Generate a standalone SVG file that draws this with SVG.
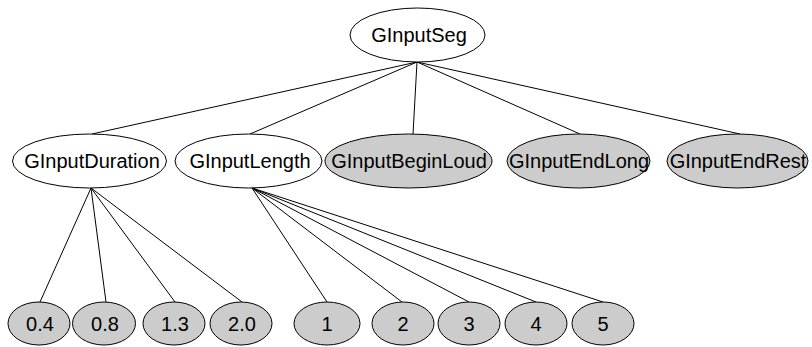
<svg xmlns="http://www.w3.org/2000/svg" width="812" height="347" viewBox="0 0 812 347">
<style>
.n{fill:#ffffff;stroke:#000;stroke-width:1}
.g{fill:#cccccc;stroke:#000;stroke-width:1}
text{font-family:"Liberation Sans",Arial,sans-serif;font-size:20px;fill:#000;text-anchor:middle}
.e line{stroke:#000;stroke-width:1}
</style>
<rect width="812" height="347" fill="#ffffff"/>
<g class="e" id="edges">
<line x1="417" y1="62" x2="92" y2="134"/>
<line x1="417" y1="62" x2="250" y2="134"/>
<line x1="417" y1="62" x2="413" y2="134"/>
<line x1="417" y1="62" x2="580" y2="134"/>
<line x1="417" y1="62" x2="740" y2="134"/>
<line x1="91" y1="188" x2="40" y2="302"/>
<line x1="91" y1="188" x2="106" y2="302"/>
<line x1="91" y1="188" x2="175" y2="302"/>
<line x1="91" y1="188" x2="242" y2="302"/>
<line x1="252" y1="188" x2="327" y2="302"/>
<line x1="252" y1="188" x2="402" y2="302"/>
<line x1="252" y1="188" x2="469" y2="302"/>
<line x1="252" y1="188" x2="536" y2="302"/>
<line x1="252" y1="188" x2="603" y2="302"/>
</g>
<g id="GInputSeg"><ellipse class="n" cx="417.5" cy="35" rx="67.5" ry="27"/><text x="419" y="42">GInputSeg</text></g>
<g id="GInputDuration"><ellipse class="n" cx="89.5" cy="161" rx="77" ry="27"/><text x="92" y="168">GInputDuration</text></g>
<g id="GInputLength"><ellipse class="n" cx="248.5" cy="161" rx="73.5" ry="27"/><text x="250" y="168">GInputLength</text></g>
<g id="GInputBeginLoud"><ellipse class="g" cx="408.5" cy="161" rx="83.5" ry="27"/><text x="409" y="168">GInputBeginLoud</text></g>
<g id="GInputEndLong"><ellipse class="g" cx="578.5" cy="161" rx="71.5" ry="27"/><text x="579" y="168">GInputEndLong</text></g>
<g id="GInputEndRest"><ellipse class="g" cx="737.5" cy="161" rx="70.5" ry="27"/><text x="738" y="168">GInputEndRest</text></g>
<g id="d04"><ellipse class="g" cx="39" cy="323.5" rx="31" ry="21.5"/><text x="40" y="331">0.4</text></g>
<g id="d08"><ellipse class="g" cx="104" cy="323.5" rx="31.5" ry="21.5"/><text x="105" y="331">0.8</text></g>
<g id="d13"><ellipse class="g" cx="174" cy="323.5" rx="31" ry="21.5"/><text x="175" y="331">1.3</text></g>
<g id="d20"><ellipse class="g" cx="241" cy="323.5" rx="31" ry="21.5"/><text x="242" y="331">2.0</text></g>
<g id="l1"><ellipse class="g" cx="327" cy="323.5" rx="33" ry="21.5"/><text x="327" y="331">1</text></g>
<g id="l2"><ellipse class="g" cx="403" cy="323.5" rx="31" ry="21.5"/><text x="403" y="331">2</text></g>
<g id="l3"><ellipse class="g" cx="469" cy="323.5" rx="31" ry="21.5"/><text x="469" y="331">3</text></g>
<g id="l4"><ellipse class="g" cx="536" cy="323.5" rx="31" ry="21.5"/><text x="536" y="331">4</text></g>
<g id="l5"><ellipse class="g" cx="603" cy="323.5" rx="31" ry="21.5"/><text x="603" y="331">5</text></g>
</svg>
